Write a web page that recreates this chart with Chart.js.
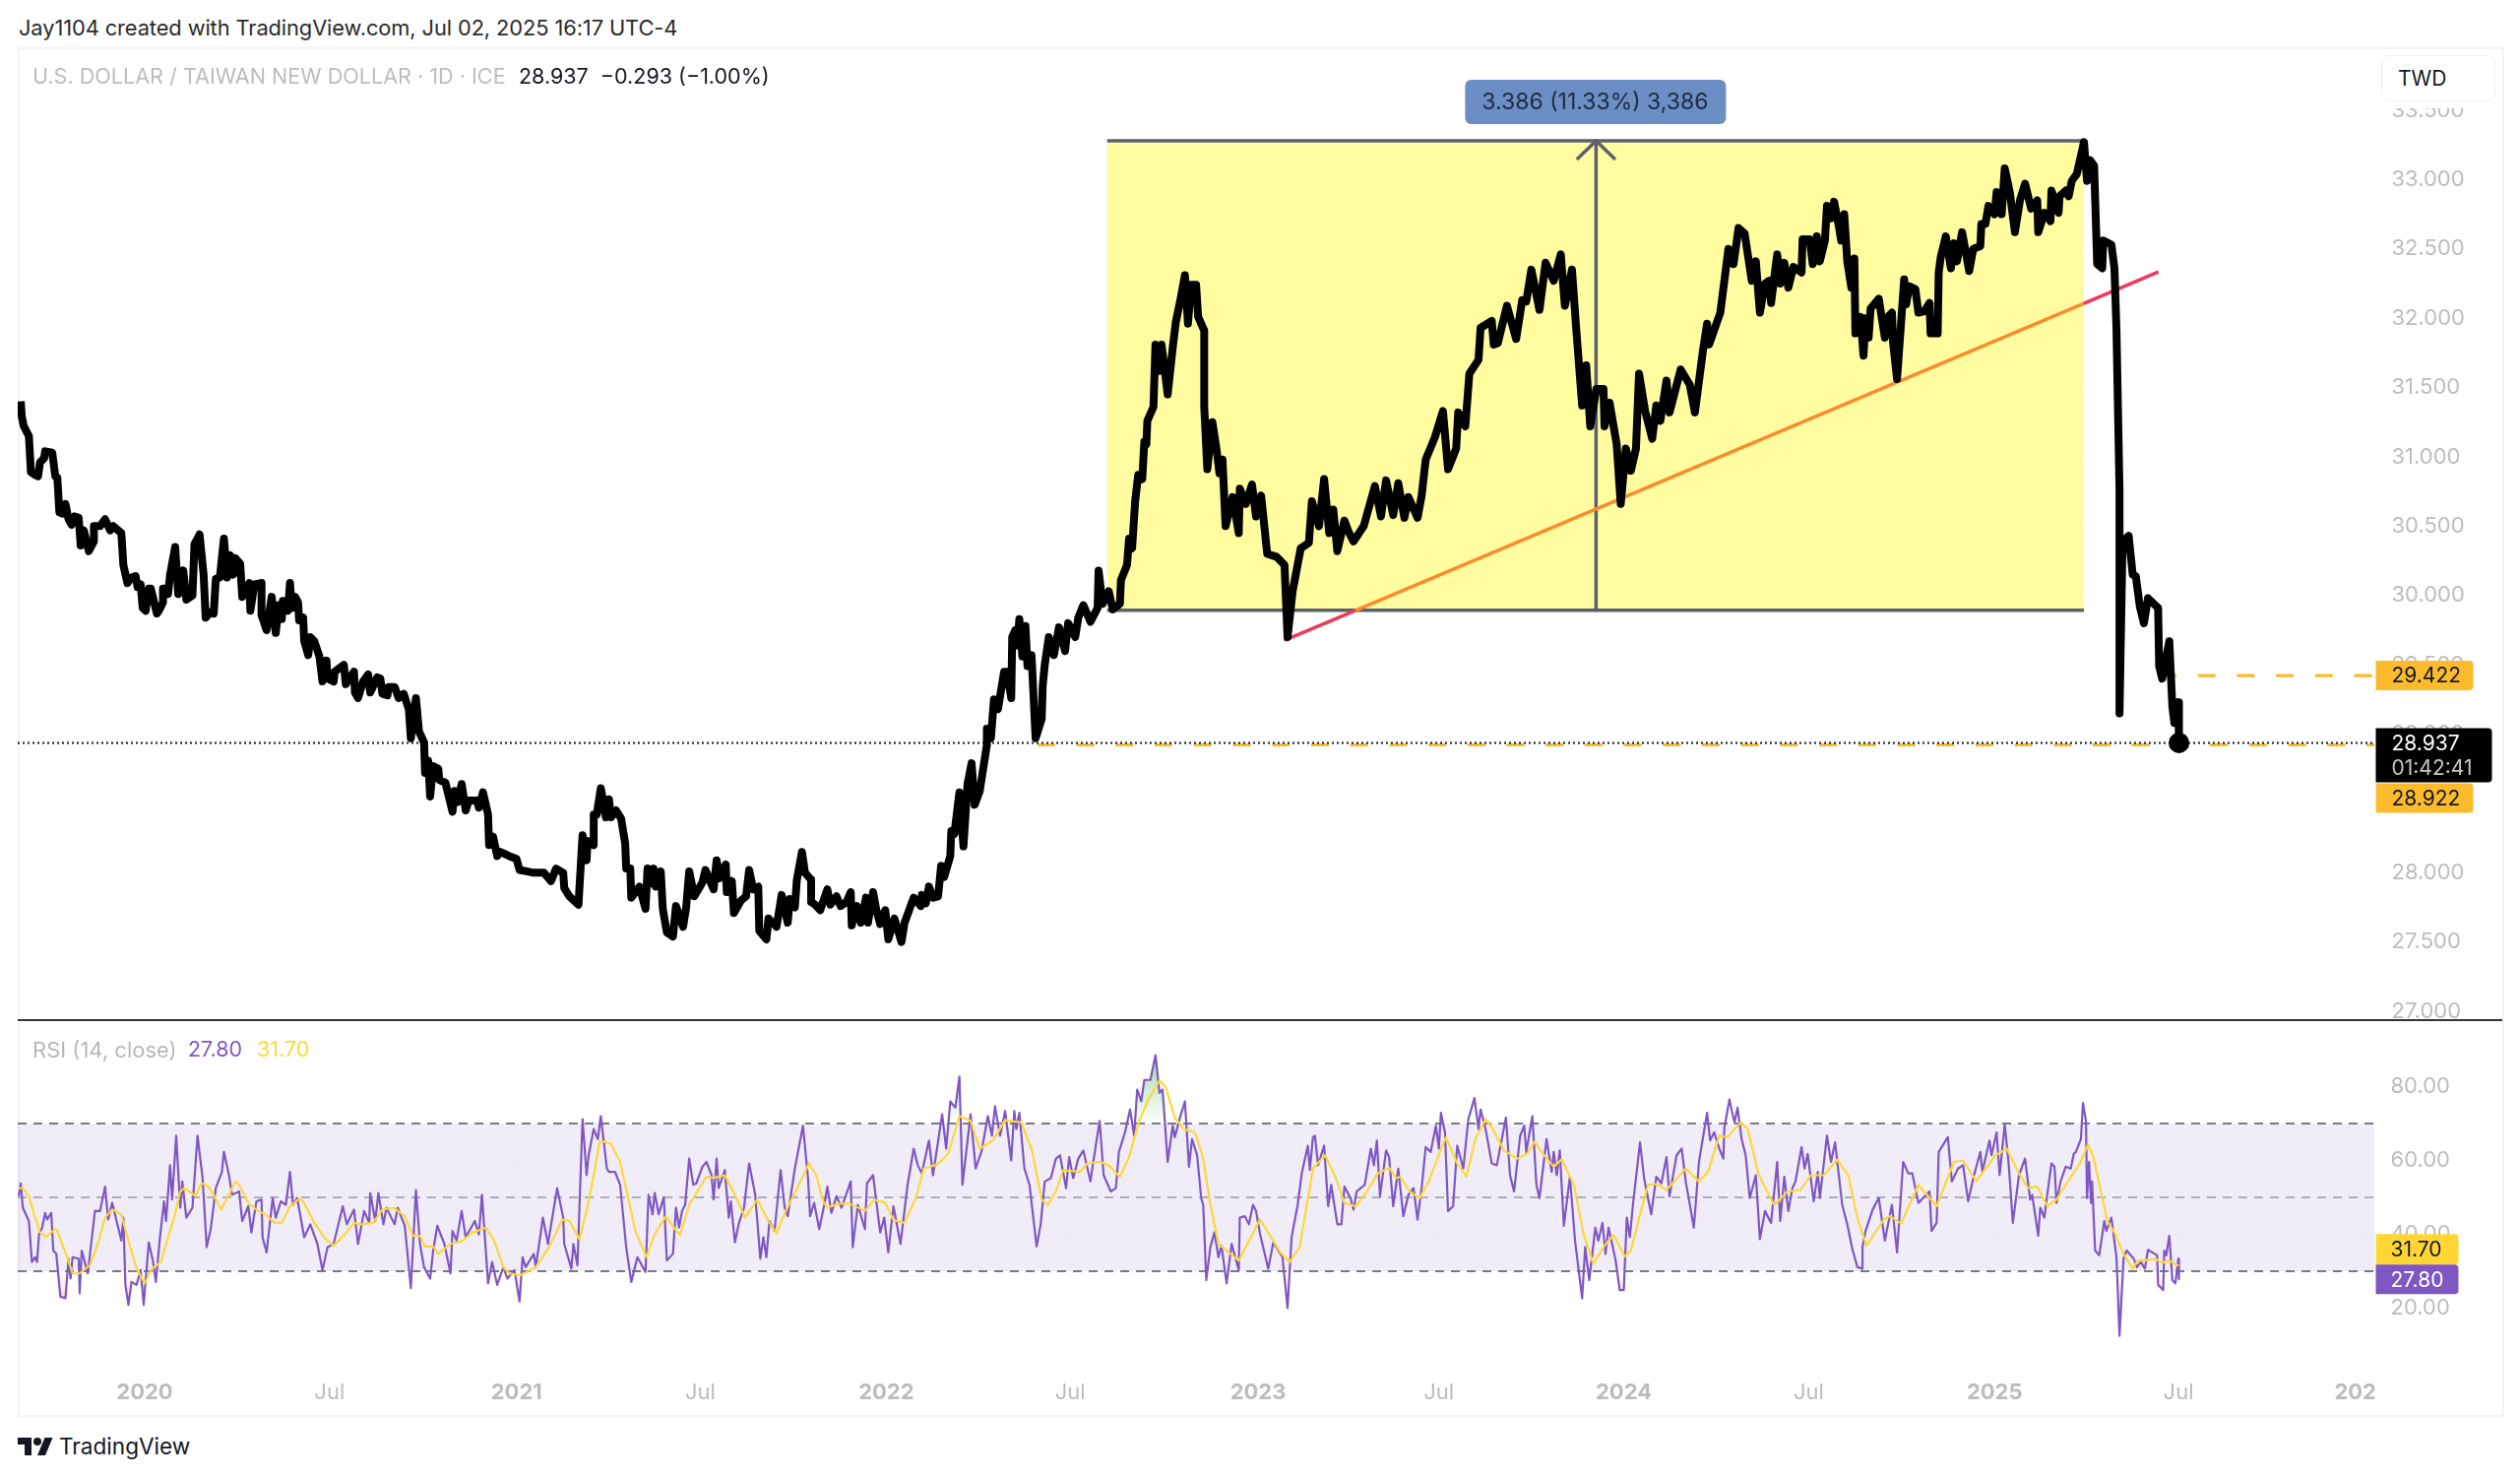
<!DOCTYPE html>
<html><head><meta charset="utf-8">
<script src="https://cdn.jsdelivr.net/npm/chart.js@4/dist/chart.umd.min.js"></script>
<style>
html,body{margin:0;padding:0;background:#fff;width:2560px;height:1501px;overflow:hidden;font-family:Inter,"Noto Sans",sans-serif}
.abs{position:absolute;white-space:pre;line-height:1}
canvas{position:absolute;display:block}
</style></head><body>
<div class="abs" style="left:19px;top:18px;font-size:21.85px;color:#2a2a2a;letter-spacing:-0.1px">Jay1104 created with TradingView.com, Jul 02, 2025 16:17 UTC-4</div>
<div class="abs" style="left:18px;top:48px;width:2522px;height:1387px;border:2px solid #f3f3f3"></div>
<canvas id="price" width="2524" height="987" style="left:18px;top:49px"></canvas>
<canvas id="rsi" width="2524" height="401" style="left:18px;top:1036px"></canvas>
<div class="abs" style="left:18px;top:1035px;width:2524px;height:2px;background:#333"></div>
<div class="abs" style="left:33px;top:67px;font-size:21.6px;color:#bcbcbc">U.S. DOLLAR / TAIWAN NEW DOLLAR · 1D · ICE</div>
<div class="abs" style="left:527px;top:67px;font-size:21.5px;color:#131722">28.937  −0.293 (−1.00%)</div>
<div class="abs" style="left:33px;top:1055px;font-size:22px;color:#b8b8b8">RSI (14, close)</div>
<div class="abs" style="left:191px;top:1055px;font-size:21.5px;color:#7e57c2">27.80</div>
<div class="abs" style="left:261px;top:1055px;font-size:21.5px;color:#fdd835">31.70</div>
<div class="abs" style="left:2419px;top:102px;width:116px;height:8px;background:#fff"></div>
<div class="abs" style="left:2419px;top:56px;width:114px;height:45px;border:1px solid #f0f0f0;border-radius:8px;background:#fff;color:#131722;font-size:21px;line-height:45px"><span style="margin-left:16px">TWD</span></div>
<svg class="abs" style="left:18px;top:1458px" width="36" height="22" viewBox="0 0 36 22"><path d="M14 20H7V9H0V2h14v18zM28 20h-8l7.5-18h8L28 20z" fill="#131722"/><circle cx="20" cy="6" r="4" fill="#131722"/></svg>
<div class="abs" style="left:60px;top:1458px;font-size:22.6px;color:#131722">TradingView</div>
<script>
// Horizontal unit: calendar days after the first bar of the chart (late Aug 2019)
const priceDays=[
3,4,6,11,13,17,20,22,26,27, 34,37,39,41,44,47,50,53,56,60,
62,65,70,75,75,81,86,91,94,102, 104,108,112,116,118,121,123,126,129,131,
137,139,143,143,146,148,150,155,158,163, 166,172,174,179,183,185,190,193,195,199,
203,206,209,212,214,219,221,228,229,233, 240,240,245,250,254,257,260,261,266,268,
270,273,276,277,281,282,286,288,292,297, 300,304,305,311,312,321,323,331,332,335,
340,345,347,354,357,359,364,365,371,375, 380,385,387,392,395,400,401,404,406,409,
414,415,421,423,428,430,433,437,441,444, 452,454,458,463,464,468,472,475,484,491,
494,501,508,518,525,530,537,538,543,552, 556,560,561,567,567,570,574,579,582,584,
589,594,598,599,603,604,612,618,620,622, 626,628,633,635,639,645,648,655,658,661,
666,674,677,685,688,691,697,698,703,705, 712,717,720,724,729,730,737,739,747,752,
758,760,765,767,772,775,781,781,785,790, 797,800,806,810,816,820,821,826,830,835,
837,842,845,849,854,857,863,870,873,882, 889,890,894,897,901,906,909,912,918,919,
922,927,931,935,939,942,947,954,954,958, 961,965,971,974,978,979,982,984,986,989,
992,994,998,1002,1008,1009,1011,1015,1020,1025, 1031,1034,1041,1044,1049,1056,1063,1064,1068,1074,
1078,1085,1086,1092,1094,1097,1100,1103,1107,1109, 1111,1112,1118,1120,1124,1126,1132,1137,1140,1145,
1149,1152,1155,1160,1162,1168,1168,1171,1176,1180, 1183,1186,1189,1196,1202,1203,1209,1215,1219,1224,
1230,1239,1247,1250,1255,1263,1271,1274,1281,1286, 1291,1295,1299,1306,1310,1315,1325,1336,1342,1347,
1354,1359,1365,1369,1378,1382,1386,1395,1403,1408, 1416,1418,1425,1429,1438,1440,1451,1453,1457,1466,
1475,1481,1485,1490,1498,1504,1512,1519,1523,1530, 1534,1540,1544,1548,1554,1561,1562,1567,1574,1578,
1583,1588,1593,1596,1602,1609,1613,1617,1623,1626, 1637,1646,1651,1659,1663,1665,1676,1684,1689,1694,
1700,1707,1711,1715,1720,1724,1726,1732,1735,1739, 1743,1748,1756,1757,1764,1767,1771,1774,1779,1781,
1785,1788,1793,1795,1798,1801,1805,1808,1809,1814, 1817,1819,1822,1824,1832,1838,1841,1845,1846,1850,
1857,1859,1862,1868,1871,1877,1882,1883,1890,1891, 1893,1898,1903,1906,1909,1914,1921,1925,1932,1933,
1937,1940,1946,1948,1953,1956,1961,1966,1971,1976, 1982,1988,1989,1995,2001,2002,2009,2010,2016,2019,
2022,2027,2034,2037,2040,2044,2047,2052,2053,2061, 2064,2066,2069,2069,2072,2078,2082,2085,2089,2093,
2097,2107,2108,2111,2118,2121,2123,2127,2127.5];
const priceValues=[
31.40,31.29,31.22,31.15,30.89,30.87,30.86,30.96,30.99,31.04, 31.03,30.86,30.85,30.60,30.59,30.66,30.55,30.51,30.57,30.56,
30.36,30.47,30.32,30.39,30.50,30.50,30.55,30.47,30.50,30.45, 30.22,30.09,30.13,30.14,30.06,30.08,29.91,29.89,30.05,30.05,
29.87,29.89,29.95,30.05,30.05,30.01,30.15,30.35,30.01,30.18, 29.97,30.00,30.37,30.44,30.15,29.84,29.88,29.87,30.12,30.13,
30.41,30.13,30.29,30.15,30.27,30.23,29.99,30.09,29.89,30.08, 30.09,29.86,29.75,29.99,29.73,29.93,29.83,29.96,29.89,30.09,
29.91,29.99,29.95,29.82,29.84,29.67,29.57,29.70,29.67,29.56, 29.38,29.53,29.40,29.38,29.45,29.50,29.36,29.45,29.30,29.26,
29.38,29.43,29.30,29.41,29.40,29.29,29.28,29.34,29.34,29.26, 29.29,29.18,28.97,29.26,29.02,28.94,28.72,28.81,28.55,28.77,
28.75,28.67,28.65,28.59,28.44,28.59,28.51,28.64,28.45,28.52, 28.52,28.47,28.58,28.42,28.20,28.26,28.12,28.15,28.12,28.10,
28.02,28.01,28.00,28.00,27.94,28.03,28.00,27.89,27.83,27.77, 28.27,28.09,28.23,28.20,28.42,28.42,28.61,28.40,28.53,28.40,
28.45,28.39,28.21,28.03,28.03,27.82,27.90,27.74,28.03,27.92, 28.03,27.90,28.01,27.74,27.57,27.54,27.76,27.61,27.75,28.01,
27.83,27.93,28.02,27.88,28.09,27.96,28.06,27.86,27.94,27.71, 27.80,27.83,28.02,27.88,27.90,27.58,27.52,27.67,27.61,27.84,
27.64,27.81,27.75,27.95,28.15,28.00,27.95,27.79,27.77,27.73, 27.88,27.77,27.83,27.76,27.79,27.86,27.62,27.76,27.64,27.82,
27.64,27.86,27.74,27.63,27.73,27.52,27.67,27.50,27.64,27.82, 27.76,27.84,27.78,27.90,27.82,27.83,28.05,27.97,28.12,28.30,
28.28,28.58,28.19,28.64,28.79,28.49,28.59,28.92,29.04,28.97, 29.25,29.18,29.45,29.45,29.26,29.70,29.75,29.64,29.83,29.56,
29.78,29.49,29.57,28.97,29.11,29.35,29.50,29.70,29.57,29.77, 29.60,29.80,29.70,29.84,29.93,29.81,29.91,30.18,29.94,30.03,
29.90,29.94,30.11,30.22,30.41,30.34,30.68,30.87,30.84,31.11, 31.09,31.26,31.36,31.81,31.62,31.81,31.45,31.79,31.97,32.15,
32.31,31.96,32.24,32.24,32.01,31.91,31.36,30.91,31.25,31.06, 30.88,30.98,30.50,30.71,30.45,30.77,30.66,30.80,30.57,30.72,
30.30,30.28,30.22,29.70,30.03,30.34,30.38,30.68,30.50,30.84, 30.45,30.62,30.32,30.54,30.46,30.39,30.50,30.79,30.57,30.83,
30.58,30.81,30.56,30.71,30.56,30.72,30.98,31.14,31.33,30.91, 31.06,31.32,31.22,31.60,31.70,31.93,31.98,31.81,31.82,32.09,
31.85,32.13,32.12,32.35,32.06,32.40,32.27,32.46,32.09,32.35, 31.94,31.37,31.66,31.22,31.49,31.49,31.22,31.39,31.09,30.66,
31.06,30.90,31.06,31.60,31.33,31.13,31.37,31.26,31.55,31.32, 31.63,31.52,31.32,31.77,31.96,31.81,32.04,32.50,32.39,32.65,
32.61,32.27,32.41,32.04,32.25,32.27,32.11,32.46,32.25,32.40, 32.22,32.37,32.33,32.57,32.57,32.39,32.59,32.41,32.56,32.81,
32.72,32.84,32.65,32.56,32.75,32.41,32.22,32.43,31.89,32.01, 31.73,32.00,31.86,32.07,32.14,31.86,32.01,32.04,31.83,31.56,
32.28,32.10,32.23,32.21,32.04,32.05,32.11,31.89,31.89,32.33, 32.44,32.59,32.36,32.54,32.41,32.62,32.34,32.50,32.52,32.68,
32.68,32.81,32.75,32.91,32.75,33.08,32.91,32.62,32.85,32.97, 32.79,32.85,32.62,32.76,32.70,32.92,32.76,32.88,32.92,32.88,
32.99,33.04,33.27,32.99,33.14,33.10,32.39,32.36,32.56,32.53, 32.36,31.92,30.76,29.15,30.39,30.43,30.15,30.14,29.92,29.80,
29.98,29.91,29.49,29.40,29.67,29.20,29.08,29.23,28.937];

const rsiDays=[
1,3,5,11,14,17,19,21,24,27, 29,33,35,38,42,47,50,52,54,60,
61,63,69,76,81,86,89,93,97,102, 104,106,109,112,117,121,124,129,133,136,
140,144,146,150,152,156,160,162,166,172, 177,182,186,190,195,201,203,208,211,218,
221,227,230,235,240,241,245,251,254,259, 264,268,271,275,278,282,288,295,300,305,
311,320,324,331,335,341,346,347,352,355, 360,363,371,374,381,387,392,396,400,406,
409,413,420,426,428,432,437,441,450,454, 457,463,467,472,478,482,489,494,497,500,
508,510,517,522,531,537,538,545,547,551, 556,560,562,567,571,574,580,582,588,593,
599,604,610,618,621,625,627,631,636,639, 645,648,651,654,657,661,665,668,674,678,
683,685,688,690,696,700,702,706,710,715, 720,726,731,734,737,740,745,751,755,758,
765,773,778,780,784,789,794,797,801,806, 811,820,822,827,834,836,842,849,853,857,
862,869,876,882,886,890,897,901,910,914, 918,923,927,930,938,943,949,955,959,962,
967,972,978,981,983,986,991,996,1003,1007, 1011,1017,1022,1026,1032,1035,1039,1044,1049,1056,
1059,1065,1069,1076,1081,1084,1090,1095,1099,1102, 1106,1109,1115,1120,1124,1127,1132,1137,1139,1145,
1149,1153,1156,1161,1165,1167,1170,1174,1178,1182, 1185,1190,1195,1202,1203,1208,1212,1216,1219,1223,
1231,1236,1245,1250,1254,1260,1264,1270,1272,1275, 1277,1280,1286,1290,1293,1299,1303,1306,1312,1315,
1318,1322,1326,1332,1335,1338,1341,1347,1350,1354, 1359,1364,1369,1374,1378,1382,1386,1391,1396,1399,
1401,1405,1408,1413,1417,1423,1428,1434,1438,1440, 1445,1451,1456,1465,1469,1473,1479,1483,1485,1491,
1495,1498,1505,1510,1512,1515,1518,1522,1528,1533, 1540,1543,1547,1553,1556,1560,1563,1566,1573,1577,
1581,1584,1587,1590,1597,1601,1608,1613,1618,1623, 1626,1633,1638,1642,1650,1655,1663,1666,1670,1675,
1679,1680,1685,1690,1693,1697,1701,1705,1711,1715, 1720,1726,1732,1735,1739,1743,1747,1750,1756,1759,
1762,1768,1772,1774,1781,1785,1789,1796,1801,1806, 1811,1816,1816,1819,1826,1832,1838,1845,1850,1856,
1861,1865,1871,1882,1884,1889,1891,1900,1904,1910, 1915,1920,1925,1932,1934,1941,1943,1948,1951,1956,
1960,1964,1970,1976,1981,1983,1989,1991,1995,1997, 2002,2005,2007,2011,2016,2021,2024,2026,2031,2033,
2036,2037,2039,2041,2042,2045,2049,2054,2056,2061, 2066,2069,2073,2076,2083,2086,2090,2094,2097,2106,
2107,2112,2113,2115,2118,2121,2124,2127,2127.5];
const rsiValues=[
50.3,53.8,47.2,43.6,32.5,33.8,32.5,40.0,41.8,45.8, 44.0,45.8,35.6,34.7,23.1,22.7,33.4,28.0,33.8,33.4,
24.0,35.6,29.4,46.3,46.3,52.9,44.0,48.5,44.0,38.3, 44.5,26.3,20.9,27.1,26.3,30.3,20.9,37.8,32.9,27.1,
39.1,48.9,43.6,58.7,49.4,66.7,47.2,54.3,44.5,47.2, 66.7,55.2,36.5,41.4,52.5,56.9,62.3,56.0,50.7,51.6,
43.6,47.6,40.5,48.9,49.4,39.2,35.1,49.8,44.5,48.9, 48.0,56.9,48.0,49.8,45.4,39.2,42.7,37.4,30.3,36.5,
37.4,47.6,42.7,46.7,37.4,46.3,43.1,51.2,43.6,51.2, 42.7,47.2,42.7,47.2,42.3,25.4,52.0,37.4,31.1,28.0,
35.6,42.3,37.4,29.4,40.9,38.3,46.3,39.2,43.6,40.0, 50.7,26.7,32.5,26.3,31.1,28.0,30.3,21.8,33.8,31.1,
34.7,31.1,44.5,37.4,52.5,44.5,37.4,30.7,37.4,31.6, 71.2,56.0,61.4,68.5,65.8,72.0,57.8,56.9,56.9,53.4,
36.5,27.1,33.8,29.8,50.7,45.4,51.2,45.4,50.0,32.9, 34.7,47.2,41.8,46.3,48.0,60.5,53.4,53.8,58.3,59.6,
56.0,49.4,60.5,52.5,57.4,44.5,48.9,37.8,43.1,47.2, 59.2,50.7,33.4,39.2,33.8,43.6,40.9,57.4,47.2,44.9,
57.8,69.4,55.1,44.9,48.5,41.4,48.0,52.9,45.8,50.3, 47.2,54.3,36.5,48.0,41.4,53.8,56.0,40.5,44.5,35.1,
47.6,37.4,53.4,63.2,58.7,56.5,65.4,56.0,72.5,63.2, 76.0,74.3,82.7,53.4,72.5,57.8,62.7,72.0,66.7,74.7,
66.7,73.4,60.0,73.4,68.5,72.9,57.8,53.4,36.7,42.7, 54.3,55.2,60.5,61.4,52.5,60.9,55.2,60.5,62.7,54.3,
60.0,70.7,56.0,51.6,52.5,62.3,67.6,73.8,66.7,79.2, 76.0,81.8,81.8,88.5,78.3,79.2,59.6,69.4,66.3,72.5,
76.0,58.3,65.8,61.4,49.8,48.0,27.6,36.5,40.5,33.8, 36.9,26.7,37.4,30.3,44.5,44.9,42.7,48.0,46.3,40.0,
30.7,37.8,33.8,20.0,39.2,48.0,56.5,64.0,57.4,66.3, 66.7,58.7,64.0,47.6,53.4,42.7,42.7,52.9,49.8,46.7,
51.6,52.5,53.4,63.2,58.7,65.4,50.3,62.7,60.9,47.6, 57.8,44.9,50.7,52.5,44.0,52.5,63.6,62.3,69.4,63.2,
72.9,67.6,46.3,47.6,64.0,57.8,71.2,76.9,68.5,73.8, 68.5,59.2,58.7,71.6,56.0,51.6,66.7,69.4,62.3,72.0,
53.4,49.8,65.8,56.9,62.3,56.0,62.7,42.3,55.6,38.3, 22.7,36.5,27.6,41.8,38.3,43.1,34.7,41.8,32.9,24.9,
24.9,44.5,39.2,48.0,64.9,55.2,45.4,55.6,53.8,60.9, 50.3,61.4,63.2,54.3,41.8,59.6,72.9,65.4,67.6,63.2,
60.5,68.9,76.5,70.3,74.3,65.8,61.4,49.8,56.0,38.7, 46.3,43.1,59.6,43.6,55.6,46.3,52.5,54.3,63.6,57.8,
61.8,48.9,56.9,49.8,66.7,59.6,64.9,48.0,42.7,36.0, 31.1,30.7,36.5,40.9,46.7,49.8,38.3,48.0,35.1,59.6,
56.5,56.5,48.5,51.6,40.9,43.1,62.3,66.3,54.3,57.8, 58.7,48.9,55.2,62.3,56.9,65.4,61.4,67.6,56.0,69.8,
58.7,43.1,56.0,60.5,49.4,50.7,39.6,47.2,44.5,48.9, 59.2,58.3,48.5,54.3,58.3,57.8,61.8,62.3,65.8,75.6,
70.7,49.8,59.6,48.5,54.3,35.6,34.3,43.6,40.9,44.5, 33.8,12.5,33.4,35.6,33.4,31.1,32.5,30.7,35.8,34.3,
26.3,24.9,35.6,34.3,39.6,27.6,26.7,33.4,27.8];

const rsiMaDays=[
1,5,11,17,22,28,37,39,48,54, 61,71,80,86,93,102,108,117,125,132,
141,147,154,160,164,175,181,186,192,200, 208,214,218,227,236,244,253,260,268,277,
281,292,303,311,322,331,337,350,359,370, 381,389,396,401,409,414,426,437,448,461,
469,478,484,495,510,523,530,536,543,553, 560,567,573,584,593,601,608,619,627,638,
647,652,661,668,678,685,696,706,716,728, 739,747,756,769,779,786,793,797,808,819,
834,843,854,862,873,884,892,905,916,927, 938,947,960,972,988,998,1008,1014,1022,1029,
1046,1053,1066,1074,1085,1094,1104,1113,1124,1130, 1139,1148,1159,1167,1174,1182,1202,1223,1243,1252,
1262,1275,1287,1297,1306,1317,1326,1339,1350,1357, 1361,1370,1380,1389,1400,1406,1417,1426,1435,1445,
1452,1463,1476,1486,1493,1504,1512,1520,1532,1541, 1551,1562,1571,1582,1588,1597,1605,1614,1623,1642,
1655,1664,1675,1683,1696,1703,1714,1729,1742,1755, 1765,1778,1791,1802,1811,1820,1837,1843,1854,1871,
1889,1906,1915,1928,1947,1958,1971,1979,1988,1998, 2007,2019,2030,2038,2043,2050,2057,2064,2073,2082,
2087,2094,2104,2111,2118,2125,2127.5];
const rsiMaValues=[
52.5,52.5,50.3,44.5,40.5,39.3,41.4,40.9,34.3,29.4, 29.4,31.6,38.3,44.5,46.7,45.4,39.2,30.7,26.7,30.7,
32.5,38.3,44.5,51.6,52.5,50.4,53.8,53.4,51.2,46.7, 50.7,54.3,53.4,48.5,46.4,45.4,43.1,43.1,47.6,49.6,
48.9,43.1,38.7,36.9,40.0,43.1,42.7,43.1,46.7,47.2, 44.9,39.6,39.6,36.7,36.7,34.7,37.4,38.1,40.5,41.8,
38.3,31.1,29.4,28.9,31.1,36.5,40.5,44.0,43.6,38.7, 46.3,56.0,65.4,64.5,59.6,49.8,40.9,33.8,40.0,44.9,
41.4,39.8,48.0,51.2,55.6,55.3,56.0,50.7,44.5,49.4, 43.6,40.3,46.3,53.4,59.2,56.0,48.9,47.2,48.3,48.3,
46.3,49.4,48.5,43.9,43.1,49.8,57.8,58.9,61.8,72.0, 70.7,63.2,65.4,70.9,70.3,63.2,49.4,47.9,51.6,57.4,
56.9,59.2,59.6,58.7,55.6,60.9,70.7,76.5,81.6,80.0, 71.6,68.5,67.6,60.5,48.0,37.4,32.9,44.0,35.1,32.5,
36.5,57.8,61.4,55.6,48.5,47.6,50.7,56.5,58.0,55.2, 55.6,51.6,49.8,54.3,62.3,66.3,59.2,55.6,65.8,71.2,
68.5,62.7,60.5,61.8,65.1,60.9,58.3,60.3,53.4,40.5, 32.0,36.9,39.8,34.0,35.6,45.4,53.4,53.6,52.0,57.8,
54.3,56.9,66.7,66.3,70.3,68.5,56.0,47.9,51.6,52.0, 56.0,56.0,60.2,56.0,44.5,36.9,44.0,44.9,42.9,53.4,
47.6,59.6,60.0,54.4,61.4,63.2,56.0,52.5,52.9,47.6, 49.4,54.7,59.2,64.3,61.4,52.5,43.6,40.5,34.7,30.7,
32.9,32.9,33.4,32.3,32.9,31.6,31.7];

const axisEndDay=2320.3;
const timeTickDays=[125,307,491,672,855,1036,1221,1399,1581,1763,1946,2127,2308];
const timeTickLabels=['2020','Jul','2021','Jul','2022','Jul','2023','Jul','2024','Jul','2025','Jul','2026'];
const priceTicks=[27,27.5,28,28.5,29,29.5,30,30.5,31,31.5,32,32.5,33,33.5];
const rsiTicks=[20,40,60,80];
const rangeStartDay=1072.4, rangeEndDay=2034, rangeTop=33.28, rangeBottom=29.894, arrowDay=1553.7;
const trendDays=[1248,1317,2034,2106], trendValues=[29.68,29.893,32.107,32.33];
const lastClose=28.937, levelHigh=29.422, levelLow=28.922, levelHighStart=2107.6, levelLowStart=1004;
const rsiBands=[70,50,30], rsiLast=27.80, rsiMaLast=31.70;

const toPts=(xs,ys)=>xs.map((x,i)=>({x,y:ys[i]}));
const FONT='Inter, "Noto Sans", sans-serif';
const seg=(xs,ys,color,width,order,extra)=>Object.assign({data:toPts(xs,ys),borderColor:color,borderWidth:width,pointRadius:0,fill:false,tension:0,order,borderJoinStyle:'round',borderCapStyle:'butt'},extra||{});
const rr=(c,x,y,w,h,tl,tr)=>{c.beginPath();c.roundRect(x,y,w,h,[tl,tr,tr,tl]);};

const fixedAxis=(w)=>s=>{s.width=w;s.paddingTop=0;s.paddingBottom=0;s.paddingLeft=0;s.paddingRight=0;};
const priceOverlay={id:'priceOverlay',afterDraw(chart){
  const c=chart.ctx,y=chart.scales.y,x=chart.scales.x,r=chart.chartArea.right;
  c.save();c.textBaseline='middle';c.textAlign='left';c.font='21px '+FONT;
  // blue measurement label
  const ax=x.getPixelForValue(arrowDay),ty=y.getPixelForValue(rangeTop);
  c.fillStyle='#6b8fc4';rr(c,ax-133,ty-62,265,45,6,6);c.fill();
  c.fillStyle='#1c2a44';c.textAlign='center';c.font='23px '+FONT;c.fillText('3.386 (11.33%) 3,386',ax-1,ty-39);c.textAlign='left';c.font='21px '+FONT;
  const lx=r+1,tx=r+17;
  const yh=y.getPixelForValue(levelHigh);
  c.fillStyle='#fbbb2d';rr(c,lx,yh-15,99,30,0,4);c.fill();
  c.fillStyle='#131722';c.fillText(levelHigh.toFixed(3),tx,yh+1);
  const yl=y.getPixelForValue(lastClose);
  c.fillStyle='#000';rr(c,lx,yl-15,118,55,0,4);c.fill();
  c.fillStyle='#fff';c.fillText(lastClose.toFixed(3),tx,yl+1);
  c.fillStyle='#c6c6c6';c.fillText('01:42:41',tx,yl+26);
  c.fillStyle='#fbbb2d';rr(c,lx,yl+41,99,30,0,4);c.fill();
  c.fillStyle='#131722';c.fillText(levelLow.toFixed(3),tx,yl+57);
  c.restore();
}};
const rsiOverlay={id:'rsiOverlay',
 afterLayout(chart){
  const c=chart.ctx,y=chart.scales.y;
  const g=c.createLinearGradient(0,y.getPixelForValue(90),0,y.getPixelForValue(70));
  g.addColorStop(0,'rgba(76,175,80,0.55)');g.addColorStop(1,'rgba(76,175,80,0)');
  const h=c.createLinearGradient(0,y.getPixelForValue(10),0,y.getPixelForValue(30));
  h.addColorStop(0,'rgba(242,54,69,0.5)');h.addColorStop(1,'rgba(242,54,69,0)');
  chart.data.datasets[0].fill={value:rsiBands[0],above:g,below:'rgba(0,0,0,0)'};
  chart.data.datasets[1].fill={value:rsiBands[2],above:'rgba(0,0,0,0)',below:h};
 },
 afterDraw(chart){
  const c=chart.ctx,y=chart.scales.y,r=chart.chartArea.right,b=chart.chartArea.bottom;
  c.save();
  c.fillStyle='#fff';c.fillRect(r,b,chart.width-r-2,chart.height-b-4);
  c.textBaseline='middle';c.textAlign='left';c.font='21px '+FONT;
  const lx=r+1,tx=r+16;
  const yv=y.getPixelForValue(rsiLast);
  c.fillStyle='#ffd633';rr(c,lx,yv-46,84,31,0,4);c.fill();
  c.fillStyle='#131722';c.fillText(rsiMaLast.toFixed(2),tx,yv-30);
  c.fillStyle='#7e57c2';rr(c,lx,yv-15,84,30,0,4);c.fill();
  c.fillStyle='#fff';c.fillText(rsiLast.toFixed(2),tx,yv+1);
  c.restore();
 }};

const base={responsive:false,animation:false,devicePixelRatio:1,
  layout:{padding:0,autoPadding:false},plugins:{legend:{display:false},tooltip:{enabled:false}},events:[]};
const grid={color:'rgba(0,0,0,0.012)',drawTicks:false,drawOnChartArea:true};

new Chart(document.getElementById('price'),{type:'line',
 data:{datasets:[
  seg([priceDays[priceDays.length-1]],[lastClose],'#000',0,0,{pointRadius:10.5,pointBackgroundColor:'#000',pointBorderWidth:0,showLine:false,clip:false}),
  seg(priceDays,priceValues,'#000',8,1),
  seg([0,axisEndDay],[lastClose,lastClose],'#131722',2,2,{borderDash:[2,3]}),
  seg(trendDays.slice(1,3),trendValues.slice(1,3),'#ff8a2e',3.5,3),
  seg(trendDays.slice(0,2),trendValues.slice(0,2),'#f2385a',3.5,3,{borderCapStyle:'round'}),
  seg(trendDays.slice(2,4),trendValues.slice(2,4),'#f2385a',3.5,3,{borderCapStyle:'round'}),
  seg([arrowDay,arrowDay],[rangeBottom,rangeTop],'#5d606b',3.5,4),
  seg([arrowDay-19,arrowDay,arrowDay+19],[rangeTop-0.135,rangeTop,rangeTop-0.135],'#5d606b',3.5,4),
  seg([rangeStartDay,rangeEndDay],[rangeBottom,rangeBottom],'#5d606b',3.5,4),
  seg([levelLowStart,axisEndDay],[levelLow,levelLow],'#fbbb2d',3.2,5,{borderDash:[18,21.7]}),
  seg([levelHighStart,axisEndDay],[levelHigh,levelHigh],'#fbbb2d',3.2,5,{borderDash:[18,21.7]}),
  seg([rangeStartDay,rangeEndDay],[rangeTop,rangeTop],'#5d606b',3.5,6,{fill:{value:rangeBottom},backgroundColor:'#fffd9f'})
 ]},
 options:Object.assign({},base,{scales:{
  x:{type:'linear',min:0,max:axisEndDay,bounds:'data',display:false},
  y:{type:'linear',position:'right',min:26.937,max:33.947,bounds:'data',afterFit:fixedAxis(129.5),
     afterBuildTicks:s=>{s.ticks=priceTicks.map(v=>({value:v}));},
     grid:grid,border:{display:false},
     ticks:{padding:17,color:'#bcbcbc',font:{family:FONT,size:22},callback:v=>Number(v).toFixed(3)}}
 }}),
 plugins:[priceOverlay]});

new Chart(document.getElementById('rsi'),{type:'line',
 data:{datasets:[
  seg(rsiDays,rsiValues,'#7e57c2',2.2,2,{fill:{value:rsiBands[0],above:'rgba(0,0,0,0)',below:'rgba(0,0,0,0)'}}),
  seg(rsiDays,rsiValues,'rgba(0,0,0,0)',0,3,{fill:{value:rsiBands[2],above:'rgba(0,0,0,0)',below:'rgba(0,0,0,0)'}}),
  seg(rsiMaDays,rsiMaValues,'#fdd835',2.2,1),
  seg([0,axisEndDay],[rsiBands[0],rsiBands[0]],'#787b86',2,4,{borderDash:[9,7]}),
  seg([0,axisEndDay],[rsiBands[1],rsiBands[1]],'rgba(120,123,134,0.55)',2,4,{borderDash:[9,7]}),
  seg([0,axisEndDay],[rsiBands[2],rsiBands[2]],'#787b86',2,4,{borderDash:[9,7]}),
  seg([0,axisEndDay],[rsiBands[0],rsiBands[0]],'rgba(0,0,0,0)',0,5,{fill:{value:rsiBands[2]},backgroundColor:'rgba(126,87,194,0.115)'})
 ]},
 options:Object.assign({},base,{scales:{
  x:{type:'linear',position:'bottom',min:0,max:axisEndDay,bounds:'data',
     afterFit:s=>{s.height=44;s.paddingLeft=0;s.paddingRight=0;s.paddingTop=0;s.paddingBottom=0;},
     afterBuildTicks:s=>{s.ticks=timeTickDays.map(v=>({value:v}));},
     grid:grid,border:{display:false},
     ticks:{autoSkip:false,maxRotation:0,minRotation:0,padding:8,color:'#bcbcbc',
       callback:(v,i)=>timeTickLabels[i],
       font:ctx=>({family:FONT,size:22,weight:/^\d/.test(timeTickLabels[ctx.index]||'')?'700':'400'})}},
  y:{type:'linear',position:'right',min:2.8,max:98,bounds:'data',afterFit:fixedAxis(129.5),
     afterBuildTicks:s=>{s.ticks=rsiTicks.map(v=>({value:v}));},
     grid:grid,border:{display:false},
     ticks:{padding:16,color:'#bcbcbc',font:{family:FONT,size:22},callback:v=>Number(v).toFixed(2)}}
 }}),
 plugins:[rsiOverlay]});
</script>
</body></html>
